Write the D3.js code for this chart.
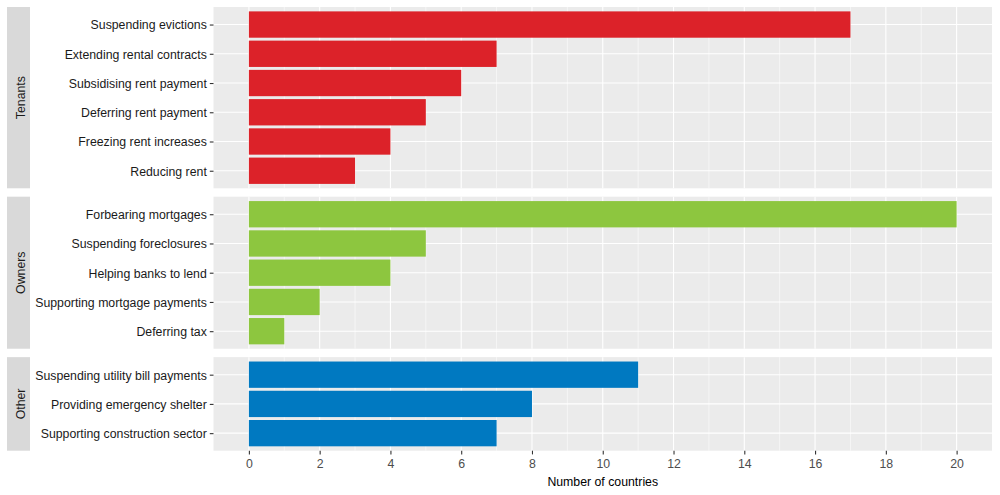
<!DOCTYPE html>
<html><head><meta charset="utf-8">
<script src="https://cdn.jsdelivr.net/npm/d3@7"></script>
<style>body{margin:0;background:#fff;} svg{display:block;font-family:"Liberation Sans",Arial,sans-serif;}</style>
</head><body><svg id="c" width="1000" height="495"></svg>
<script>
const groups = ["Tenants","Owners","Other"];
const tenantsCats = ["Suspending evictions","Extending rental contracts","Subsidising rent payment","Deferring rent payment","Freezing rent increases","Reducing rent"];
const tenantsVals = [17,7,6,5,4,3];
const ownersCats = ["Forbearing mortgages","Suspending foreclosures","Helping banks to lend","Supporting mortgage payments","Deferring tax"];
const ownersVals = [20,5,4,2,1];
const otherCats = ["Suspending utility bill payments","Providing emergency shelter","Supporting construction sector"];
const otherVals = [11,8,7];
const colors = ["#DC2229","#8DC63F","#0079C1"];
const xTicks = [0,2,4,6,8,10,12,14,16,18,20];
const xTitle = "Number of countries";

(function(){
const panels = [
  {name:groups[0], cats:tenantsCats, vals:tenantsVals, color:colors[0]},
  {name:groups[1], cats:ownersCats, vals:ownersVals, color:colors[1]},
  {name:groups[2], cats:otherCats, vals:otherVals, color:colors[2]}
];

const svg = d3.select("#c");
const pL = 213.5, pR = 992, pT = 7, pB = 450.7, gap = 8.4;
const stripX = 7, stripW = 23;
const fs = "12.3px";
const x = d3.scaleLinear().domain([-1,21]).range([pL,pR]);
const totalUnits = d3.sum(panels, p => p.cats.length - 1 + 1.2);
const unit = (pB - pT - gap*(panels.length-1)) / totalUnits;

let y0 = pT;
panels.forEach(p => {
  const h = (p.cats.length - 1 + 1.2) * unit;
  const g = svg.append("g");
  g.append("rect").attr("x",pL).attr("y",y0).attr("width",pR-pL).attr("height",h).attr("fill","#EBEBEB");
  const y = d3.scalePoint().domain(p.cats).range([y0 + 0.6*unit, y0 + h - 0.6*unit]);
  const minor = [1,3,5,7,9,11,13,15,17,19];
  g.selectAll(".mn").data(minor).join("line").attr("x1",d=>x(d)).attr("x2",d=>x(d)).attr("y1",y0).attr("y2",y0+h).attr("stroke","#fff").attr("stroke-width",0.55);
  g.selectAll(".mj").data(xTicks).join("line").attr("x1",d=>x(d)).attr("x2",d=>x(d)).attr("y1",y0).attr("y2",y0+h).attr("stroke","#fff").attr("stroke-width",1.1);
  g.selectAll(".hy").data(p.cats).join("line").attr("x1",pL).attr("x2",pR).attr("y1",d=>y(d)).attr("y2",d=>y(d)).attr("stroke","#fff").attr("stroke-width",1.1);
  g.selectAll(".bar").data(p.cats).join("rect")
    .attr("x", x(0)).attr("y", d => y(d) - 0.45*unit)
    .attr("width", (d,i) => x(p.vals[i]) - x(0)).attr("height", 0.9*unit)
    .attr("fill", p.color);
  const ax = d3.axisLeft(y).tickSize(3.7).tickPadding(3);
  const ag = g.append("g").attr("transform",`translate(${pL},0)`).call(ax);
  ag.select(".domain").remove();
  ag.selectAll(".tick line").attr("stroke","#333").attr("stroke-width",1.1);
  ag.selectAll(".tick text").attr("fill","#1a1a1a").style("font-size",fs).attr("dy","0.36em");
  g.append("rect").attr("x",stripX).attr("y",y0).attr("width",stripW).attr("height",h).attr("fill","#D9D9D9");
  g.append("text").attr("transform",`translate(25,${y0+h/2}) rotate(-90)`)
    .attr("text-anchor","middle").attr("fill","#1A1A1A").style("font-size",fs).text(p.name);
  y0 += h + gap;
});

const xa = d3.axisBottom(x).tickValues(xTicks).tickSize(3.7).tickPadding(4.5);
const xg = svg.append("g").attr("transform",`translate(0,${pB})`).call(xa);
xg.select(".domain").remove();
xg.selectAll(".tick line").attr("stroke","#333").attr("stroke-width",1.1);
xg.selectAll(".tick text").attr("fill","#4D4D4D").style("font-size",fs);
svg.append("text").attr("x",(pL+pR)/2).attr("y",485.5).attr("text-anchor","middle")
  .attr("fill","#000").style("font-size",fs).text(xTitle);
})();
</script></body></html>
